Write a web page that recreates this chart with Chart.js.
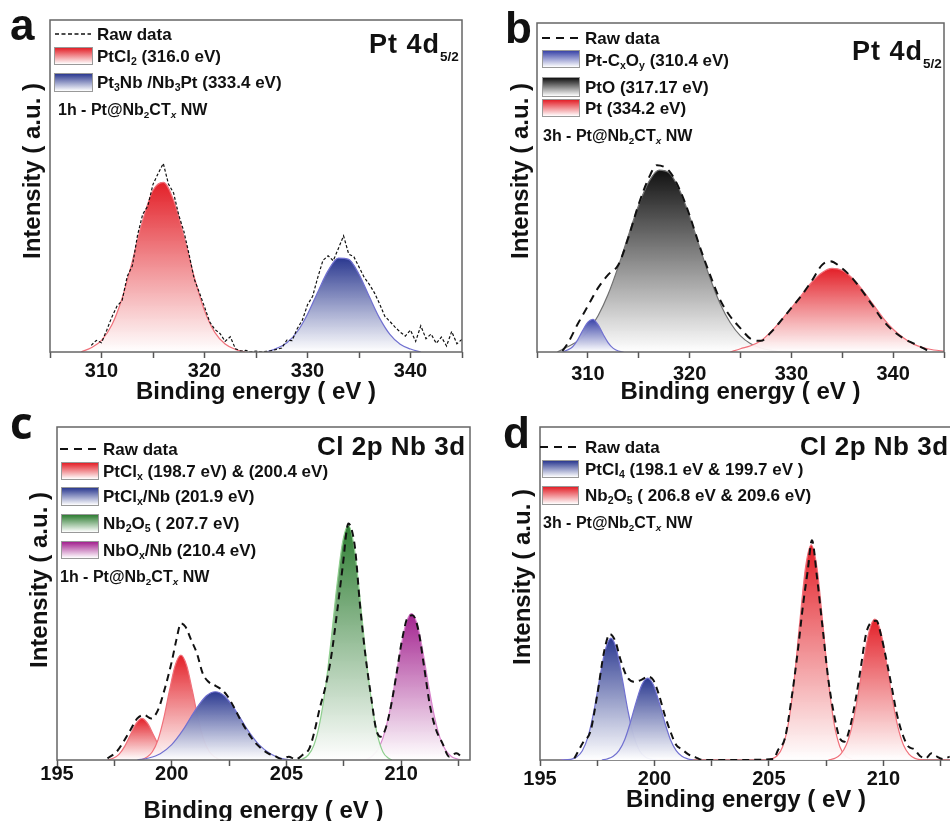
<!DOCTYPE html>
<html>
<head>
<meta charset="utf-8">
<script src="https://cdn.jsdelivr.net/npm/chart.js@4.4.1/dist/chart.umd.min.js"></script>
<style>
  html, body { margin: 0; padding: 0; width: 950px; height: 821px; overflow: hidden; background: #fff; }
  body { position: relative; font-family: "Liberation Sans", Arial, sans-serif; font-weight: bold; color: #111; }
  canvas { position: absolute; }
  .t { position: absolute; white-space: nowrap; line-height: 1; font-size: 17px; transform: translateY(-50%); }
  .t sub { font-size: 0.62em; vertical-align: -0.3em; line-height: 0; }
  .tit { font-size: 27px; letter-spacing: 1px; }
  .tit sub { font-size: 0.5em; vertical-align: -0.6em; letter-spacing: 0; }
  .letra { position: absolute; font-size: 44px; line-height: 1; }
  .ytit { position: absolute; font-size: 24px; white-space: nowrap; line-height: 1; transform: translate(-50%, -50%) rotate(-90deg); }
  .sw { position: absolute; border: 1px solid #999; box-sizing: border-box; }
  svg { position: absolute; }
</style>
</head>
<body>
<canvas id="panelA" width="475" height="410" style="left:0;top:0"></canvas>
<canvas id="panelB" width="475" height="410" style="left:475px;top:0"></canvas>
<canvas id="panelC" width="475" height="425" style="left:0;top:410px"></canvas>
<canvas id="panelD" width="480" height="425" style="left:475px;top:410px"></canvas>

<!-- Panel a -->
<div class="letra" style="left:10px;top:3px">a</div>
<div class="ytit" style="left:32px;top:171px">Intensity ( a.u. )</div>
<svg style="left:55px;top:30px" width="36" height="8"><line x1="0" y1="4" x2="36" y2="4" stroke="#111" stroke-width="1.5" stroke-dasharray="4 2.5"/></svg>
<div class="t" style="left:97px;top:34px">Raw data</div>
<div class="sw" style="left:54px;top:47px;width:39px;height:18px;background:linear-gradient(#e32028,#fff)"></div>
<div class="t" style="left:97px;top:56px">PtCl<sub>2</sub> (316.0 eV)</div>
<div class="sw" style="left:54px;top:73px;width:39px;height:19px;background:linear-gradient(#2b3990,#fff)"></div>
<div class="t" style="left:97px;top:82px">Pt<sub>3</sub>Nb /Nb<sub>3</sub>Pt (333.4 eV)</div>
<div class="t" style="left:58px;top:110px;font-size:16px">1h - Pt@Nb<sub>2</sub>CT<sub><i>x</i></sub> NW</div>
<div class="t tit" style="left:369px;top:44px">Pt 4d<sub>5/2</sub></div>

<!-- Panel b -->
<div class="letra" style="left:505px;top:6px">b</div>
<div class="ytit" style="left:520px;top:171px">Intensity ( a.u. )</div>
<svg style="left:542px;top:34px" width="42" height="8"><line x1="0" y1="4" x2="42" y2="4" stroke="#111" stroke-width="2" stroke-dasharray="8 6"/></svg>
<div class="t" style="left:585px;top:38px">Raw data</div>
<div class="sw" style="left:542px;top:50px;width:38px;height:18px;background:linear-gradient(#3a44a8,#fff)"></div>
<div class="t" style="left:585px;top:60px">Pt-C<sub>x</sub>O<sub>y</sub> (310.4 eV)</div>
<div class="sw" style="left:542px;top:77px;width:38px;height:20px;background:linear-gradient(#111,#fff)"></div>
<div class="t" style="left:585px;top:87px">PtO (317.17 eV)</div>
<div class="sw" style="left:542px;top:99px;width:38px;height:18px;background:linear-gradient(#e32028,#fff)"></div>
<div class="t" style="left:585px;top:108px">Pt (334.2 eV)</div>
<div class="t" style="left:543px;top:136px;font-size:16px">3h - Pt@Nb<sub>2</sub>CT<sub><i>x</i></sub> NW</div>
<div class="t tit" style="left:852px;top:51px">Pt 4d<sub>5/2</sub></div>

<!-- Panel c -->
<div class="letra" style="left:10px;top:400px;font-family:'Open Sans',sans-serif">c</div>
<div class="ytit" style="left:39px;top:580px">Intensity ( a.u. )</div>
<svg style="left:60px;top:445px" width="42" height="8"><line x1="0" y1="4" x2="42" y2="4" stroke="#111" stroke-width="2" stroke-dasharray="8 6"/></svg>
<div class="t" style="left:103px;top:449px">Raw data</div>
<div class="sw" style="left:61px;top:462px;width:38px;height:18px;background:linear-gradient(#e32028,#fff)"></div>
<div class="t" style="left:103px;top:471px">PtCl<sub>x</sub> (198.7 eV) &amp; (200.4 eV)</div>
<div class="sw" style="left:61px;top:487px;width:38px;height:19px;background:linear-gradient(#2b3990,#fff)"></div>
<div class="t" style="left:103px;top:496px">PtCl<sub>x</sub>/Nb (201.9 eV)</div>
<div class="sw" style="left:61px;top:514px;width:38px;height:19px;background:linear-gradient(#2e7d32,#fff)"></div>
<div class="t" style="left:103px;top:523px">Nb<sub>2</sub>O<sub>5</sub> ( 207.7 eV)</div>
<div class="sw" style="left:61px;top:541px;width:38px;height:18px;background:linear-gradient(#a3228f,#fff)"></div>
<div class="t" style="left:103px;top:550px">NbO<sub>x</sub>/Nb (210.4 eV)</div>
<div class="t" style="left:60px;top:577px;font-size:16px">1h - Pt@Nb<sub>2</sub>CT<sub><i>x</i></sub> NW</div>
<div class="t tit" style="left:317px;top:446px;font-size:26px;letter-spacing:0.5px">Cl 2p Nb 3d</div>

<!-- Panel d -->
<div class="letra" style="left:503px;top:411px">d</div>
<div class="ytit" style="left:522px;top:577px">Intensity ( a.u. )</div>
<svg style="left:540px;top:443px" width="42" height="8"><line x1="0" y1="4" x2="42" y2="4" stroke="#111" stroke-width="2" stroke-dasharray="8 6"/></svg>
<div class="t" style="left:585px;top:447px">Raw data</div>
<div class="sw" style="left:542px;top:460px;width:37px;height:18px;background:linear-gradient(#2b3990,#fff)"></div>
<div class="t" style="left:585px;top:469px">PtCl<sub>4</sub> (198.1 eV &amp; 199.7 eV )</div>
<div class="sw" style="left:542px;top:486px;width:37px;height:19px;background:linear-gradient(#e32028,#fff)"></div>
<div class="t" style="left:585px;top:495px">Nb<sub>2</sub>O<sub>5</sub> ( 206.8 eV &amp; 209.6 eV)</div>
<div class="t" style="left:543px;top:523px;font-size:16px">3h - Pt@Nb<sub>2</sub>CT<sub><i>x</i></sub> NW</div>
<div class="t tit" style="left:800px;top:446px;font-size:26px;letter-spacing:0.5px">Cl 2p Nb 3d</div>

<script>
// Datos (intensidad relativa, 0-100 = alto del area)

// Panel a: Pt 4d 5/2, 1h
const aTicks = [310, 320, 330, 340];
const aRawX = [309, 309.5, 310, 310.5, 311, 311.5, 312, 312.5, 313, 313.5, 314, 314.5, 315, 315.5, 316, 316.5,
  317, 317.5, 318, 318.5, 319, 319.5, 320, 320.5, 321, 321.5, 322, 322.5, 323, 323.5, 324, 324.5, 325, 325.5,
  326, 326.5, 327, 327.5, 328, 328.5, 329, 329.5, 330, 330.5, 331, 331.5, 332, 332.5, 333, 333.5, 334, 334.5,
  335, 335.5, 336, 336.5, 337, 337.5, 338, 338.5, 339, 339.5, 340, 340.5, 341, 341.5, 342, 342.5, 343, 343.5,
  344, 344.5, 345];
const aRaw = [2.0, 3.5, 2.8, 6.5, 10.5, 13.8, 15.5, 22.8, 26.0, 35.2, 41.5, 44.0, 50.5, 53.8, 56.8, 50.6,
  47.9, 41.2, 36.3, 29.4, 22.0, 17.9, 13.6, 9.1, 6.8, 5.6, 3.2, 4.6, 1.0, 0.3, 0.5, 0, 0.3, 0,
  0.2, 0.4, 0.8, 1.2, 3.6, 3.4, 7.0, 9.6, 14.2, 16.8, 22.5, 27.6, 29.0, 27.5, 31.2, 35.0, 29.5, 28.7,
  25.6, 22.5, 20.4, 17.8, 14.5, 10.8, 9.2, 7.5, 6.0, 4.8, 6.6, 3.2, 7.9, 4.0, 5.4, 2.6, 4.5, 1.8,
  6.2, 2.5, 3.8];
const aPtCl2X = [308, 309, 310, 311, 312, 313, 314, 315, 316, 317, 318, 319, 320, 321, 322, 323, 324];
const aPtCl2 = [0, 1.3, 3.5, 8.1, 16.2, 27.4, 39.6, 48.7, 51.1, 45.7, 34.8, 22.6, 12.5, 5.9, 2.4, 0.8, 0];
const aPtNbX = [326, 327, 328, 329, 330, 331, 332, 333, 334, 335, 336, 337, 338, 339, 340, 341];
const aPtNb = [0, 1.1, 2.8, 6.1, 11.4, 18.1, 24.5, 28.3, 27.9, 23.4, 16.7, 10.2, 5.3, 2.3, 0.9, 0];

// Panel b: Pt 4d 5/2, 3h
const bRawX = [307.5, 308, 309, 310, 311, 312, 313, 314, 315, 316, 316.8, 318, 319, 320, 321, 322, 323, 324,
  325, 326, 327, 328, 329, 330, 331, 332, 333, 333.8, 335, 336, 337, 338, 339, 340, 341, 342, 343, 343.6];
const bRaw = [0.3, 2.5, 8.5, 14.0, 19.5, 23.5, 26.5, 35.0, 45.0, 53.0, 56.8, 55.0, 49.5, 41.5, 32.0, 23.5, 15.8, 10.8,
  7.2, 4.0, 3.4, 6.0, 9.6, 13.4, 17.2, 21.6, 26.4, 27.6, 25.4, 22.4, 18.4, 14.0, 9.6, 6.4, 4.2, 2.6, 1.1, 0];
const bPtCxOyX = [307.5, 308, 308.5, 309, 309.5, 310, 310.5, 311, 311.5, 312, 312.5, 313, 313.5];
const bPtCxOy = [0, 0.6, 1.6, 3.7, 6.6, 9.1, 9.9, 8.3, 5.4, 2.8, 1.1, 0.3, 0];
const bPtOX = [307, 308, 309, 310, 311, 312, 313, 314, 315, 316, 317, 318, 319, 320, 321, 322, 323, 324, 325,
  326, 327, 328, 329];
const bPtO = [0, 1.6, 3.3, 6.3, 11.0, 17.6, 26.1, 35.6, 44.7, 51.8, 55.3, 54.4, 49.3, 41.2, 31.7, 22.5, 14.7, 8.9, 4.9,
  2.5, 1.2, 0.5, 0];
const bPtX = [324, 325, 326, 327, 328, 329, 330, 331, 332, 333, 334, 335, 336, 337, 338, 339, 340, 341, 342, 343, 344, 345];
const bPt = [0, 1.0, 1.9, 3.4, 6.2, 9.6, 13.4, 17.3, 21.2, 24.1, 25.4, 24.8, 22.4, 18.8, 14.6, 10.4, 6.9, 4.3, 2.4, 1.3, 0.6, 0.3];

// Panel c: Cl 2p / Nb 3d, 1h
const cTicks = [195, 200, 205, 210];
const cRawX = [197.2, 197.6, 197.9, 198.2, 198.5, 198.8, 199.1, 199.4, 199.7, 200.0, 200.2, 200.4, 200.6, 200.85,
  201.1, 201.35, 201.6, 201.85, 202.1, 202.4, 202.7, 203.0, 203.3, 203.6, 203.9, 204.2, 204.5, 204.8, 205.1,
  205.4, 205.7, 206.0, 206.2, 206.45, 206.7, 206.95, 207.2, 207.45, 207.7, 207.85, 208.0, 208.2, 208.45, 208.7,
  208.9, 209.1, 209.3, 209.55, 209.8, 210.05, 210.3, 210.5, 210.75, 211.0, 211.25, 211.5, 211.8, 212.1, 212.4, 212.7];
const cRaw = [0.5, 2.5, 5.5, 9.0, 12.5, 13.5, 12.5, 15.0, 21.5, 29.5, 36.0, 41.0, 40.0, 36.0,
  32.0, 26.0, 23.5, 22.5, 21.5, 19.5, 16.0, 12.0, 8.5, 5.5, 3.5, 2.0, 1.2, 0.3, 1.0,
  0.2, 1.5, 3.5, 8.0, 15.5, 22.0, 31.0, 44.0, 58.0, 71.0, 69.0, 63.0, 47.0, 31.0, 18.5,
  9.5, 7.0, 9.0, 16.0, 26.0, 36.5, 43.0, 43.5, 39.0, 28.0, 16.5, 9.5, 5.0, 1.0, 2.0, 0.5];
const cPtClAX = [197.2, 197.45, 197.7, 197.95, 198.2, 198.45, 198.7, 198.95, 199.2, 199.45, 199.7, 199.95, 200.2];
const cPtClA = [0, 0.5, 1.7, 4.1, 7.6, 11.0, 12.5, 11.0, 7.6, 4.1, 1.7, 0.5, 0];
const cPtClBX = [198.65, 198.9, 199.15, 199.4, 199.65, 199.9, 200.15, 200.4, 200.65, 200.9, 201.15, 201.4, 201.65, 201.9, 202.15];
const cPtClB = [0, 0.8, 2.4, 6.0, 12.4, 20.8, 28.4, 31.5, 28.4, 20.8, 12.4, 6.0, 2.4, 0.8, 0];
const cPtClNbX = [198.5, 199, 199.5, 200, 200.5, 201, 201.5, 201.9, 202.3, 202.8, 203.3, 203.8, 204.3, 204.8, 205.2];
const cPtClNb = [0, 0.6, 1.9, 4.6, 9.1, 14.7, 19.2, 20.5, 19.2, 14.7, 9.1, 4.6, 1.9, 0.4, 0];
const cNb2O5X = [205.5, 205.7, 205.95, 206.2, 206.45, 206.7, 206.95, 207.2, 207.45, 207.7, 207.95, 208.2, 208.45,
  208.7, 208.95, 209.2, 209.45, 209.6];
const cNb2O5 = [0, 0.3, 1.5, 4.5, 11.1, 21.6, 36.2, 52.4, 65.5, 70.5, 64.0, 49.0, 32.0, 18.0, 8.0, 2.5, 0.5, 0];
const cNbOxX = [208.45, 208.7, 208.95, 209.2, 209.45, 209.7, 209.95, 210.2, 210.45, 210.7, 210.95, 211.2, 211.45,
  211.7, 211.95, 212.2, 212.45, 212.6];
const cNbOx = [0, 1.0, 2.8, 6.5, 13.0, 22.1, 32.4, 40.8, 44.0, 40.8, 32.4, 22.1, 13.0, 6.5, 2.8, 1.0, 0.3, 0];

// Panel d: Cl 2p / Nb 3d, 3h
const dRawX = [196.5, 196.9, 197.2, 197.5, 197.8, 198.05, 198.3, 198.5, 198.8, 199.1, 199.4, 199.7, 199.95, 200.2,
  200.45, 200.7, 200.95, 201.2, 201.5, 201.8, 202.1, 203.5, 205.2, 205.4, 205.7, 206.0, 206.25, 206.5, 206.7,
  206.88, 207.1, 207.35, 207.6, 207.85, 208.1, 208.3, 208.55, 208.8, 209.0, 209.25, 209.5, 209.7, 209.9, 210.15,
  210.35, 210.6, 210.85, 211.1, 211.35, 211.6, 211.85, 212.1, 212.3, 212.6, 212.9];
const dRaw = [0.5, 5.5, 8.5, 19.5, 32.5, 37.8, 35.5, 30.5, 25.0, 23.5, 24.0, 25.0, 24.0, 19.5,
  13.5, 8.5, 4.5, 3.2, 1.6, 0.8, 0, 0, 0.3, 3.0, 6.5, 19.0, 32.0, 47.0, 57.0,
  66.0, 55.0, 39.5, 24.0, 13.5, 6.5, 5.5, 10.0, 18.5, 27.0, 38.0, 41.5, 41.8, 37.5, 29.5,
  22.5, 13.5, 7.5, 4.0, 3.2, 1.2, 0.5, 2.0, 1.2, 0.3, 1.0];
const dPtCl4AX = [195.9, 196.35, 196.6, 196.85, 197.1, 197.35, 197.6, 197.85, 198.1, 198.35, 198.6, 198.85, 199.1,
  199.35, 199.6, 199.85, 200.1];
const dPtCl4A = [0, 0.2, 0.9, 2.8, 7.0, 14.5, 24.2, 33.0, 36.6, 33.0, 24.2, 14.5, 7.0, 2.8, 0.9, 0.2, 0];
const dPtCl4BX = [197.7, 197.95, 198.2, 198.45, 198.7, 198.95, 199.2, 199.45, 199.7, 199.95, 200.2, 200.45, 200.7,
  200.95, 201.2, 201.45, 201.7];
const dPtCl4B = [0, 0.35, 1.1, 2.8, 6.1, 11.3, 17.4, 22.6, 24.6, 22.6, 17.4, 11.3, 6.1, 2.8, 1.1, 0.35, 0];
const dNb2O5AX = [195.9, 204.9, 205.1, 205.35, 205.6, 205.85, 206.1, 206.35, 206.6, 206.85, 207.1, 207.35, 207.6,
  207.85, 208.1, 208.35, 208.6, 208.85];
const dNb2O5A = [0, 0, 0.3, 1.2, 4.0, 10.9, 23.7, 41.4, 57.8, 64.6, 57.8, 41.4, 23.7, 10.9, 4.0, 1.2, 0.3, 0];
const dNb2O5BX = [207.6, 207.88, 208.13, 208.38, 208.63, 208.88, 209.13, 209.38, 209.63, 209.88, 210.13, 210.38,
  210.63, 210.88, 211.13, 211.38, 211.63, 211.9, 213];
const dNb2O5B = [0, 0.5, 1.7, 4.5, 10.1, 18.9, 29.5, 38.7, 42.3, 38.7, 29.5, 18.9, 10.1, 4.5, 1.7, 0.5, 0.1, 0, 0];

// Colores
const rojo = '#e32028', azul = '#2b3990', negro = '#111111', verde = '#2e7d32', magenta = '#a3228f';
const fuente = '"Liberation Sans", Arial, sans-serif';

Chart.defaults.font.family = fuente;

function pares(xs, ys) {
  return xs.map((x, i) => ({ x: x, y: ys[i] }));
}

// Degradado del color del pico hacia blanco en la base
function rellenoDegradado(color, valores) {
  const maximo = Math.max(...valores);
  return function (context) {
    const chart = context.chart;
    const area = chart.chartArea;
    if (!area) return color;
    const yTop = chart.scales.y.getPixelForValue(maximo);
    const g = chart.ctx.createLinearGradient(0, yTop, 0, area.bottom);
    g.addColorStop(0, color);
    g.addColorStop(1, 'rgba(255,255,255,0.95)');
    return g;
  };
}

function pico(xs, ys, color, borde) {
  return {
    data: pares(xs, ys),
    borderColor: borde,
    borderWidth: 1.2,
    backgroundColor: rellenoDegradado(color, ys),
    fill: 'origin',
    pointRadius: 0,
    cubicInterpolationMode: 'monotone'
  };
}

function crudo(xs, ys, guiones, ancho, suave) {
  const ds = {
    data: pares(xs, ys),
    borderColor: '#111',
    borderWidth: ancho,
    borderDash: guiones,
    fill: false,
    pointRadius: 0
  };
  if (suave) ds.cubicInterpolationMode = 'monotone';
  return ds;
}

// Marco gris alrededor del area del grafico
function dibujarMarco(chart) {
  const { ctx, chartArea: a } = chart;
  ctx.save();
  ctx.strokeStyle = '#666';
  ctx.lineWidth = 1.5;
  ctx.strokeRect(a.left, a.top, a.right - a.left, a.bottom - a.top);
  ctx.restore();
}

const marco = {
  id: 'marco',
  beforeDatasetsDraw(chart, args, opts) { if (!opts.encima) dibujarMarco(chart); },
  afterDatasetsDraw(chart, args, opts) { if (opts.encima) dibujarMarco(chart); }
};

function ejeX(c) {
  return {
    type: 'linear',
    min: c.min,
    max: c.max,
    afterFit: s => { s.height = c.alto; },
    grid: { display: true, drawOnChartArea: false, drawTicks: true, tickLength: 6, tickColor: '#555', tickWidth: 1.5 },
    border: { display: false },
    ticks: {
      stepSize: c.paso,
      includeBounds: false,
      autoSkip: false,
      maxRotation: 0,
      padding: c.padTick,
      color: '#111',
      font: { size: 20, weight: 'bold', lineHeight: 1 },
      callback: v => c.etiquetas.some(t => Math.abs(t - v) < 1e-6) ? String(v) : ''
    },
    title: {
      display: true,
      text: 'Binding energy ( eV )',
      color: '#111',
      font: { size: 24, weight: 'bold' },
      padding: { top: 0, bottom: c.padTitulo }
    }
  };
}

function crearPanel(id, conjuntos, c) {
  new Chart(document.getElementById(id), {
    type: 'line',
    data: { datasets: conjuntos },
    options: {
      responsive: false,
      animation: false,
      events: [],
      layout: { autoPadding: false, padding: { left: c.izq, top: c.arriba, right: c.der, bottom: 0 } },
      plugins: { legend: { display: false }, tooltip: { enabled: false }, marco: { encima: c.encima } },
      scales: {
        x: ejeX(c),
        y: { display: false, min: 0, max: 100 }
      }
    },
    plugins: [marco]
  });
}

crearPanel('panelA', [
  crudo(aRawX, aRaw, [3, 2], 1.2, false),
  pico(aPtCl2X, aPtCl2, rojo, '#f0707a'),
  pico(aPtNbX, aPtNb, azul, '#7070d0')
], { min: 305, max: 345, paso: 5, etiquetas: aTicks, izq: 50, arriba: 20, der: 13, alto: 58, padTick: 3, padTitulo: 3, encima: true });

crearPanel('panelB', [
  crudo(bRawX, bRaw, [8, 6], 2, true),
  pico(bPtCxOyX, bPtCxOy, '#3a44a8', '#7070d0'),
  pico(bPtX, bPt, rojo, '#f0707a'),
  pico(bPtOX, bPtO, negro, '#707070')
], { min: 305, max: 345, paso: 5, etiquetas: aTicks, izq: 62, arriba: 23, der: 2, alto: 58, padTick: 6, padTitulo: 3, encima: true });

crearPanel('panelC', [
  crudo(cRawX, cRaw, [7, 5], 2, true),
  pico(cPtClNbX, cPtClNb, azul, '#7070d0'),
  pico(cPtClBX, cPtClB, rojo, '#f0707a'),
  pico(cPtClAX, cPtClA, rojo, '#f0707a'),
  pico(cNb2O5X, cNb2O5, verde, '#8fcf8f'),
  pico(cNbOxX, cNbOx, magenta, '#d884cc')
], { min: 195, max: 213, paso: 2.5, etiquetas: cTicks, izq: 57, arriba: 17, der: 5, alto: 75, padTick: -2, padTitulo: 9, encima: true });

crearPanel('panelD', [
  crudo(dRawX, dRaw, [7, 5], 2, true),
  pico(dPtCl4BX, dPtCl4B, azul, '#7070d0'),
  pico(dPtCl4AX, dPtCl4A, azul, '#7070d0'),
  pico(dNb2O5BX, dNb2O5B, rojo, '#f0707a'),
  pico(dNb2O5AX, dNb2O5A, rojo, '#f0707a')
], { min: 195, max: 213, paso: 2.5, etiquetas: cTicks, izq: 65, arriba: 17, der: 3, alto: 75, padTick: 3, padTitulo: 20, encima: false });
</script>
</body>
</html>
